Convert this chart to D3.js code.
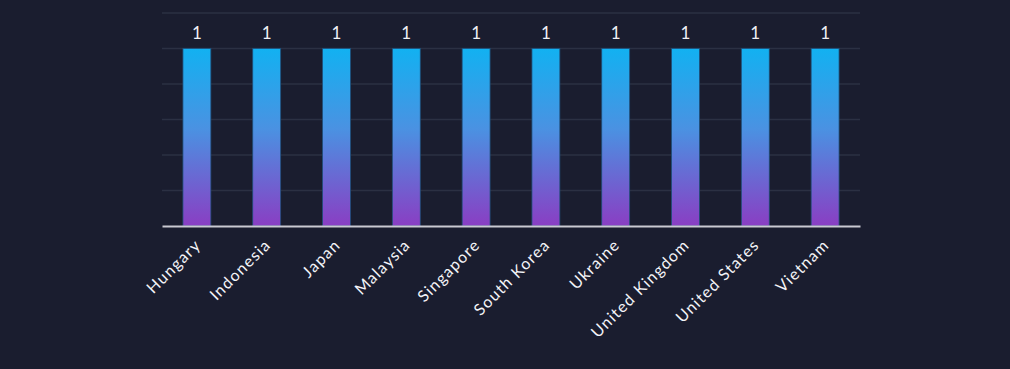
<!DOCTYPE html>
<html>
  <head>
    <meta charset="utf-8">
    <title>Countries</title>
    <script src="https://d3js.org/d3.v7.min.js"></script>
    <style>
      body { margin: 0; background: #1a1d2f; font-family: Lato, "Open Sans", sans-serif; }
    </style>
  </head>
  <body>
    <div id="chart"></div>
    <script>
      // data
      var countries = ["Hungary", "Indonesia", "Japan", "Malaysia", "Singapore",
        "South Korea", "Ukraine", "United Kingdom", "United States", "Vietnam"];
      var counts = [1, 1, 1, 1, 1, 1, 1, 1, 1, 1];
      var yTicks = [0, 0.2, 0.4, 0.6, 0.8, 1, 1.2];

      var width = 1010, height = 369;
      var margin = { top: 13, right: 150, bottom: 143, left: 162 };

      var svg = d3.select("#chart").append("svg")
        .attr("width", width)
        .attr("height", height);

      var defs = svg.append("defs");
      var grad = defs.append("linearGradient")
        .attr("id", "barGrad")
        .attr("x1", 0).attr("y1", 0).attr("x2", 0).attr("y2", 1);
      grad.append("stop").attr("offset", "0%").attr("stop-color", "#12b1f1");
      grad.append("stop").attr("offset", "45%").attr("stop-color", "#4a92e2");
      grad.append("stop").attr("offset", "100%").attr("stop-color", "#8a3ec3");

      var x = d3.scaleBand()
        .domain(countries)
        .range([margin.left, width - margin.right])
        .paddingInner(0.6)
        .paddingOuter(0.3);

      var y = d3.scaleLinear()
        .domain([0, 1.2])
        .range([height - margin.bottom, margin.top]);

      // grid lines
      svg.append("g")
        .selectAll("line")
        .data(yTicks.slice(1))
        .enter().append("line")
          .attr("x1", margin.left)
          .attr("x2", width - margin.right)
          .attr("y1", function(d) { return y(d); })
          .attr("y2", function(d) { return y(d); })
          .attr("stroke", "#2b3043")
          .attr("stroke-width", 1.5);

      // bars
      svg.append("g")
        .selectAll("rect")
        .data(counts)
        .enter().append("rect")
          .attr("x", function(d, i) { return x(countries[i]); })
          .attr("y", function(d) { return y(d); })
          .attr("width", x.bandwidth())
          .attr("height", function(d) { return y(0) - y(d); })
          .attr("fill", "url(#barGrad)")
          .attr("stroke", "#1f4f7a")
          .attr("stroke-width", 0.8);

      // value labels
      svg.append("g")
        .selectAll("text")
        .data(counts)
        .enter().append("text")
          .attr("x", function(d, i) { return x(countries[i]) + x.bandwidth() / 2; })
          .attr("y", function(d) { return y(d) - 10; })
          .attr("text-anchor", "middle")
          .attr("fill", "#f0f0f5")
          .attr("font-size", 17)
          .text(function(d) { return d; });

      // x axis
      var xAxis = svg.append("g")
        .attr("transform", "translate(0," + y(0) + ")")
        .call(d3.axisBottom(x).tickSize(0).tickPadding(0));
      xAxis.select(".domain")
        .attr("stroke", "#c9cad2")
        .attr("stroke-width", 2);
      xAxis.selectAll("text")
        .attr("fill", "#f4f4f8")
        .attr("font-size", 16)
        .attr("letter-spacing", "1.2px")
        .attr("font-family", "Lato, 'Open Sans', sans-serif")
        .attr("text-anchor", "end")
        .attr("dy", 0)
        .attr("transform", "translate(5,20) rotate(-45)");
    </script>
  </body>
</html>
